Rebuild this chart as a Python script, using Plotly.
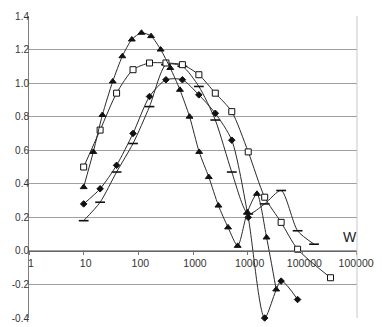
import plotly.graph_objects as go

# x positions (log scale)
x_double = [10, 20, 40, 80, 160, 320, 640, 1280, 2560, 5120, 10240, 20480, 40960, 81920, 163840, 327680]
x_tri = [10, 15, 22, 34, 51, 76, 114, 171, 256, 384, 577, 865, 1297, 1946, 2919, 4379,
         6568, 9853, 14779, 22168, 33253]

# series values
tri_y = [0.38, 0.59, 0.81, 1.01, 1.16, 1.26, 1.30, 1.28, 1.20, 1.09, 0.96, 0.80, 0.59,
         0.44, 0.27, 0.14, 0.03, 0.23, 0.34, 0.08, -0.23]
diamond_x = x_double[:14]
diamond_y = [0.28, 0.37, 0.51, 0.70, 0.92, 1.02, 1.02, 0.93, 0.82, 0.66, 0.20, -0.40, -0.18, -0.29]
square_x = x_double[:14] + x_double[15:]
square_y = [0.50, 0.72, 0.94, 1.08, 1.12, 1.12, 1.11, 1.05, 0.94, 0.83, 0.59, 0.32, 0.17, 0.01, -0.16]
dash_x = x_double[:15]
dash_y = [0.18, 0.29, 0.47, 0.64, 0.86, 1.11, 1.10, 0.98, 0.78, 0.47, 0.22, 0.28, 0.36, 0.12, 0.04]

# axis ticks
x_ticks = [1, 10, 100, 1000, 10000, 100000, 1000000]
x_ticktext = ["1", "10", "100", "1000", "10000", "100000", "1000000"]
y_ticks = [-0.4, -0.2, 0.0, 0.2, 0.4, 0.6, 0.8, 1.0, 1.2, 1.4]
y_ticktext = ["-0.4", "-0.2", "0.0", "0.2", "0.4", "0.6", "0.8", "1.0", "1.2", "1.4"]

line_col = "#2a2a2a"
fig = go.Figure()


def add_series(x, y, symbol, size, fill):
    fig.add_trace(
        go.Scatter(
            x=x,
            y=y,
            mode="lines+markers",
            line=dict(color=line_col, width=1, shape="spline", smoothing=0.7),
            marker=dict(symbol=symbol, size=size, color=fill,
                        line=dict(color="#111111", width=1 if symbol != "line-ew" else 1.6)),
            cliponaxis=False,
            showlegend=False,
        )
    )


add_series(dash_x, dash_y, "line-ew", 7, "#111111")
add_series(diamond_x, diamond_y, "diamond", 5, "#111111")
add_series(square_x, square_y, "square", 6, "white")
add_series(x_tri, tri_y, "triangle-up", 6, "#111111")

fig.add_annotation(x=5.87, y=0.08, xref="x", yref="y", text="W", showarrow=False,
                   font=dict(size=14, color="#222222"))

# right border of the plot area
fig.add_shape(type="line", xref="paper", yref="paper", x0=1, x1=1, y0=0, y1=1,
              line=dict(color="#c8c8c8", width=1))

# page body has an 8px margin, so the figure is drawn 8px smaller and offset
fig.update_layout(
    width=374,
    height=319,
    margin=dict(l=21, r=25, t=8, b=9),
    paper_bgcolor="white",
    plot_bgcolor="white",
    font=dict(family="Arial, Liberation Sans", size=10, color="#333333"),
    showlegend=False,
)
fig.update_xaxes(
    type="log",
    range=[0, 6.0001],
    anchor="free",
    position=0.4 / 1.8,
    automargin=False,
    showgrid=False,
    showline=True,
    linecolor="#666666",
    linewidth=1,
    ticks="outside",
    ticklen=3,
    tickcolor="#777777",
    tickvals=x_ticks,
    ticktext=x_ticktext,
    ticklabelshift=2,
    ticklabeloverflow="allow",
    tickfont=dict(size=10.5),
    zeroline=False,
)
fig.update_yaxes(
    range=[-0.4, 1.4],
    automargin=False,
    showgrid=True,
    gridcolor="#a0a0a0",
    gridwidth=1,
    zeroline=False,
    showline=True,
    linecolor="#808080",
    tickvals=y_ticks,
    ticktext=y_ticktext,
    ticks="",
    ticklabelstandoff=-3,
)

fig.write_html("out.html")
